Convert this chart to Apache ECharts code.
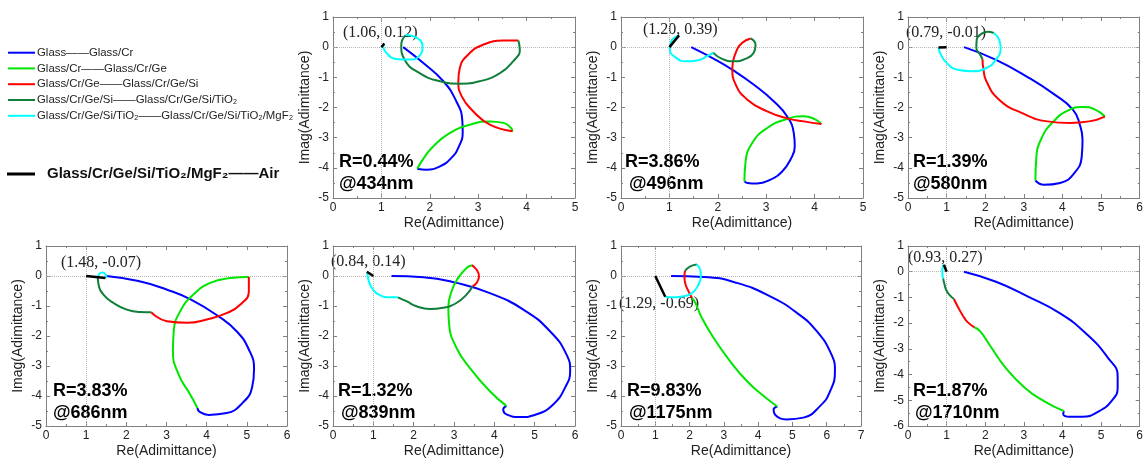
<!DOCTYPE html>
<html>
<head>
<meta charset="utf-8">
<script src="https://cdn.jsdelivr.net/npm/echarts@6/dist/echarts.min.js"></script>
<style>
	html, body { margin: 0; padding: 0; background: #fff; }
	#chart { width: 1146px; height: 459px; }
</style>
</head>
<body>
<div id="chart"></div>
<script>
// admittance loci, one array per layer, [Re, Imag]
const cr434 = [[1.45, 0], [1.86, -0.52], [2.28, -1.13], [2.55, -1.8], [2.67, -2.4], [2.68, -2.8], [2.6, -3.3], [2.44, -3.68], [2.21, -3.95], [1.93, -4.06], [1.74, -4.03]]
const ge434 = [[1.74, -4.03], [1.9, -3.62], [2.07, -3.29], [2.41, -2.85], [2.83, -2.57], [3.24, -2.46], [3.52, -2.51], [3.67, -2.66], [3.71, -2.79]]
const si434 = [[3.71, -2.79], [3.24, -2.57], [2.9, -2.13], [2.66, -1.63], [2.59, -1.13], [2.62, -0.69], [2.79, -0.25], [3.1, 0.08], [3.52, 0.22], [3.83, 0.22]]
const tio434 = [[3.83, 0.22], [3.86, -0.09], [3.72, -0.47], [3.45, -0.86], [3.03, -1.13], [2.62, -1.21], [2.21, -1.13], [1.79, -0.86], [1.48, -0.42], [1.41, 0.08], [1.5, 0.4]]
const mgf434 = [[1.5, 0.4], [1.69, 0.34], [1.85, 0.03], [1.79, -0.28], [1.59, -0.41], [1.31, -0.39], [1.1, -0.19], [1.04, 0.02], [1.06, 0.12]]
const air434 = [[1.06, 0.12], [1.0, 0]]

const cr496 = [[1.45, 0], [1.92, -0.39], [2.33, -0.78], [2.74, -1.24], [3.16, -1.8], [3.43, -2.29], [3.57, -2.85], [3.59, -3.29], [3.5, -3.73], [3.33, -4.12], [3.09, -4.39], [2.81, -4.52], [2.61, -4.5], [2.55, -4.45]]
const ge496 = [[2.55, -4.45], [2.57, -3.85], [2.71, -3.18], [3.02, -2.68], [3.43, -2.38], [3.78, -2.29], [4.02, -2.4], [4.14, -2.55]]
const si496 = [[4.14, -2.55], [3.78, -2.46], [3.43, -2.36], [3.02, -2.13], [2.61, -1.74], [2.37, -1.24], [2.3, -0.69], [2.37, -0.19], [2.5, 0.14], [2.68, 0.29]]
const tio496 = [[2.68, 0.29], [2.78, 0.08], [2.74, -0.19], [2.57, -0.39], [2.33, -0.47], [2.09, -0.39], [1.9, -0.18]]
const mgf496 = [[1.9, -0.18], [1.78, -0.3], [1.57, -0.44], [1.33, -0.47], [1.12, -0.33], [1.01, -0.08], [1.04, 0.2], [1.2, 0.39]]
const air496 = [[1.2, 0.39], [1.0, 0]]

const cr580 = [[1.45, 0], [2.28, -0.42], [3.11, -1.0], [3.77, -1.55], [4.27, -2.07], [4.45, -2.57], [4.52, -3.07], [4.5, -3.62], [4.31, -4.17], [3.94, -4.5], [3.52, -4.56], [3.3, -4.42]]
const ge580 = [[3.3, -4.42], [3.32, -3.73], [3.44, -3.07], [3.77, -2.46], [4.19, -2.07], [4.52, -1.98], [4.85, -2.07], [5.1, -2.3]]
const si580 = [[5.1, -2.3], [4.69, -2.46], [4.19, -2.51], [3.61, -2.46], [2.94, -2.18], [2.36, -1.74], [2.03, -1.13], [1.95, -0.69], [1.93, -0.4]]
const tio580 = [[1.93, -0.4], [1.87, -0.25], [1.77, -0.03], [1.78, 0.25], [1.91, 0.45], [2.07, 0.51], [2.22, 0.47]]
const mgf580 = [[2.22, 0.47], [2.36, 0.25], [2.4, -0.03], [2.28, -0.41], [2.03, -0.69], [1.66, -0.8], [1.29, -0.75], [1.0, -0.52], [0.83, -0.19], [0.79, -0.01]]
const air580 = [[0.79, -0.01], [1.0, 0]]

const cr686 = [[1.5, 0], [2.3, -0.17], [3.0, -0.45], [3.6, -0.78], [4.3, -1.35], [4.75, -1.85], [5.05, -2.45], [5.18, -3.1], [5.13, -3.72], [4.9, -4.22], [4.5, -4.57], [4.05, -4.63], [3.82, -4.52], [3.77, -4.4]]
const ge686 = [[3.77, -4.4], [3.59, -3.95], [3.3, -3.28], [3.16, -2.51], [3.18, -1.84], [3.34, -1.18], [3.67, -0.62], [4.09, -0.23], [4.59, -0.07], [5.05, -0.03]]
const si686 = [[5.05, -0.03], [5.05, -0.51], [4.84, -0.95], [4.51, -1.23], [4.0, -1.45], [3.51, -1.56], [3.01, -1.51], [2.62, -1.21]]
const tio686 = [[2.62, -1.21], [2.34, -1.2], [2.01, -1.12], [1.68, -0.9], [1.43, -0.62], [1.31, -0.29], [1.29, -0.03]]
const mgf686 = [[1.29, -0.03], [1.35, 0.1], [1.41, 0.12], [1.49, 0.04], [1.5, -0.02], [1.48, -0.07]]
const air686 = [[1.48, -0.07], [1.0, 0]]

const cr839 = [[1.45, 0], [2.24, -0.04], [3.06, -0.23], [3.89, -0.57], [4.72, -1.12], [5.38, -1.84], [5.79, -2.62], [5.88, -3.17], [5.75, -3.73], [5.46, -4.28], [5.05, -4.61], [4.64, -4.7], [4.3, -4.61], [4.22, -4.45], [4.3, -4.33]]
const ge839 = [[4.3, -4.33], [3.89, -3.84], [3.39, -3.06], [3.06, -2.39], [2.88, -1.62], [2.86, -1.06], [2.94, -0.51], [3.1, -0.07], [3.31, 0.27], [3.44, 0.36]]
const si839 = [[3.44, 0.36], [3.56, 0.21], [3.62, -0.01], [3.56, -0.23], [3.46, -0.34]]
const tio839 = [[3.46, -0.34], [3.31, -0.62], [3.06, -0.9], [2.73, -1.06], [2.4, -1.1], [2.07, -1.01], [1.82, -0.84], [1.61, -0.71]]
const mgf839 = [[1.61, -0.71], [1.41, -0.71], [1.16, -0.64], [0.99, -0.45], [0.89, -0.18], [0.85, 0.1], [0.84, 0.14]]
const air839 = [[0.84, 0.14], [1.0, 0]]

const cr1175 = [[1.46, 0], [2.41, -0.03], [3.38, -0.23], [4.35, -0.68], [5.13, -1.23], [5.71, -1.84], [6.14, -2.62], [6.24, -3.17], [6.1, -3.84], [5.81, -4.33], [5.32, -4.72], [4.83, -4.78], [4.5, -4.63], [4.45, -4.45], [4.56, -4.35]]
const ge1175 = [[4.56, -4.35], [4.16, -4.0], [3.67, -3.5], [3.18, -2.84], [2.7, -2.06], [2.36, -1.4], [2.17, -0.9], [2.07, -0.73]]
const si1175 = [[2.07, -0.73], [1.97, -0.51], [1.87, -0.23], [1.85, -0.01], [1.87, 0.18]]
const tio1175 = [[1.87, 0.18], [2.02, 0.32], [2.21, 0.38]]
const mgf1175 = [[2.21, 0.38], [2.31, 0.21], [2.33, -0.01], [2.26, -0.29], [2.07, -0.57], [1.78, -0.68], [1.49, -0.71], [1.29, -0.69]]
const air1175 = [[1.29, -0.69], [1.0, 0]]

const cr1710 = [[1.45, 0], [2.28, -0.39], [3.11, -0.97], [3.94, -1.62], [4.6, -2.39], [5.18, -3.35], [5.43, -4.06], [5.43, -4.51], [5.27, -5.03], [4.93, -5.44], [4.52, -5.64], [4.19, -5.64], [4.02, -5.52], [4.04, -5.42]]
const ge1710 = [[4.04, -5.42], [3.52, -5.03], [3.03, -4.52], [2.53, -3.74], [2.11, -2.84], [1.87, -2.32], [1.72, -2.16]]
const si1710 = [[1.72, -2.16], [1.53, -1.94], [1.41, -1.68], [1.29, -1.36], [1.19, -1.06]]
const tio1710 = [[1.19, -1.06], [1.08, -0.91], [0.99, -0.71], [0.94, -0.46], [0.91, -0.26]]
const mgf1710 = [[0.91, -0.26], [0.89, -0.11], [0.89, 0.06], [0.91, 0.23], [0.93, 0.27]]
const air1710 = [[0.93, 0.27], [1.0, 0]]

const layerNames = [
	"Glass——Glass/Cr",
	"Glass/Cr——Glass/Cr/Ge",
	"Glass/Cr/Ge——Glass/Cr/Ge/Si",
	"Glass/Cr/Ge/Si——Glass/Cr/Ge/Si/TiO₂",
	"Glass/Cr/Ge/Si/TiO₂——Glass/Cr/Ge/Si/TiO₂/MgF₂",
	"Glass/Cr/Ge/Si/TiO₂/MgF₂——Air",
]
const colors = ["#0000ff", "#00e600", "#ff0000", "#0f7f3a", "#00ffff", "#000000"]

const finalLabels = ["(1.06, 0.12)", "(1.20, 0.39)", "(0.79, -0.01)", "(1.48, -0.07)", "(0.84, 0.14)", "(1.29, -0.69)", "(0.93, 0.27)"]
const reflectance = ["R=0.44%", "R=3.86%", "R=1.39%", "R=3.83%", "R=1.32%", "R=9.83%", "R=1.87%"]
const wavelength = ["@434nm", "@496nm", "@580nm", "@686nm", "@839nm", "@1175nm", "@1710nm"]

const plots = [
	{ layers: [cr434, ge434, si434, tio434, mgf434, air434], left: 333, top: 17, width: 242, height: 181, xMax: 5, yMin: -5, lab: [343, 33], txt: [339, 339] },
	{ layers: [cr496, ge496, si496, tio496, mgf496, air496], left: 621, top: 17, width: 242, height: 181, xMax: 5, yMin: -5, lab: [643, 30], txt: [625, 629] },
	{ layers: [cr580, ge580, si580, tio580, mgf580, air580], left: 908, top: 17, width: 241, height: 181, xMax: 6, yMin: -5, lab: [906, 33], txt: [913, 913] },
	{ layers: [cr686, ge686, si686, tio686, mgf686, air686], left: 46, top: 246, width: 241, height: 181, xMax: 6, yMin: -5, lab: [61, 263], txt: [53, 53] },
	{ layers: [cr839, ge839, si839, tio839, mgf839, air839], left: 333, top: 246, width: 242, height: 181, xMax: 6, yMin: -5, lab: [331, 262], txt: [338, 341] },
	{ layers: [cr1175, ge1175, si1175, tio1175, mgf1175, air1175], left: 621, top: 246, width: 240, height: 181, xMax: 7, yMin: -5, lab: [619, 304], txt: [627, 629] },
	{ layers: [cr1710, ge1710, si1710, tio1710, mgf1710, air1710], left: 908, top: 246, width: 241, height: 181, xMax: 6, yMin: -6, lab: [908, 258], txt: [913, 915] },
]

const sans = "'Liberation Sans', Arial, 'DejaVu Sans', sans-serif"
const serif = "'Liberation Serif', 'Times New Roman', serif"
const frame = "#808080"

const makeAxis = (gridIndex, position, min, max, withLabels, name, isY) => ({
	type: "value",
	gridIndex: gridIndex,
	position: position,
	min: min,
	max: max,
	interval: 1,
	axisLine: { show: true, onZero: false, lineStyle: { color: frame, width: 1 } },
	axisTick: { show: true, inside: true, length: 4, lineStyle: { color: frame } },
	minorTick: { show: true, splitNumber: 2, length: 2, lineStyle: { color: frame } },
	splitLine: { show: false },
	axisLabel: { show: withLabels, color: "#222", fontSize: 12, fontFamily: sans, margin: 4 },
	name: withLabels ? name : "",
	nameLocation: "middle",
	nameGap: isY ? 21 : 18,
	nameTextStyle: { color: "#222", fontSize: 14, fontFamily: sans },
})

const grid = []
const xAxis = []
const yAxis = []
const series = []
const graphic = []

plots.forEach((p, i) => {
	grid.push({ left: p.left, top: p.top, width: p.width, height: p.height })
	xAxis.push(makeAxis(i, "bottom", 0, p.xMax, true, "Re(Adimittance)", false))
	xAxis.push(makeAxis(i, "top", 0, p.xMax, false, "", false))
	yAxis.push(makeAxis(i, "left", p.yMin, 1, true, "Imag(Adimittance)", true))
	yAxis.push(makeAxis(i, "right", p.yMin, 1, false, "", true))

	p.layers.forEach((d, j) => {
		const s = {
			name: layerNames[j],
			type: "line",
			xAxisIndex: 2 * i,
			yAxisIndex: 2 * i,
			data: d,
			smooth: j < 5 ? 0.5 : false,
			showSymbol: false,
			lineStyle: { color: colors[j], width: j === 5 ? 2.5 : 2 },
			z: 3,
		}
		if (j === 0) {
			s.markLine = {
				silent: true,
				symbol: ["none", "none"],
				label: { show: false },
				lineStyle: { color: "#b5b5b5", type: "dotted", width: 1 },
				data: [{ xAxis: 1 }, { yAxis: 0 }],
				z: 1,
			}
		}
		series.push(s)
	})

	graphic.push({ type: "text", x: p.lab[0], y: p.lab[1], style: { text: finalLabels[i], font: "16px " + serif, fill: "#222", verticalAlign: "middle" } })
	graphic.push({ type: "text", x: p.txt[0], y: p.top + 145, style: { text: reflectance[i], font: "bold 18px " + sans, fill: "#000", verticalAlign: "middle" } })
	graphic.push({ type: "text", x: p.txt[1], y: p.top + 167, style: { text: wavelength[i], font: "bold 18px " + sans, fill: "#000", verticalAlign: "middle" } })
})

// legend on the left
const legendY = [52.7, 68.4, 84.2, 100, 115.8]
legendY.forEach((y, j) => {
	graphic.push({ type: "line", shape: { x1: 8, y1: y, x2: 35, y2: y }, style: { stroke: colors[j], lineWidth: 2 } })
	graphic.push({ type: "text", x: 37, y: y, style: { text: layerNames[j], font: "11.4px " + sans, fill: "#222", verticalAlign: "middle" } })
})
graphic.push({ type: "line", shape: { x1: 7, y1: 174, x2: 35, y2: 174 }, style: { stroke: "#000", lineWidth: 3 } })
graphic.push({ type: "text", x: 47, y: 174, style: { text: layerNames[5], font: "bold 15px " + sans, fill: "#111", verticalAlign: "middle" } })

const options = {
	animation: false,
	backgroundColor: "#fff",
	grid: grid,
	xAxis: xAxis,
	yAxis: yAxis,
	series: series,
	graphic: graphic,
}

const chartInstance = echarts.init(document.getElementById("chart"), null, { renderer: "canvas" })
chartInstance.setOption(options)
</script>
</body>
</html>
